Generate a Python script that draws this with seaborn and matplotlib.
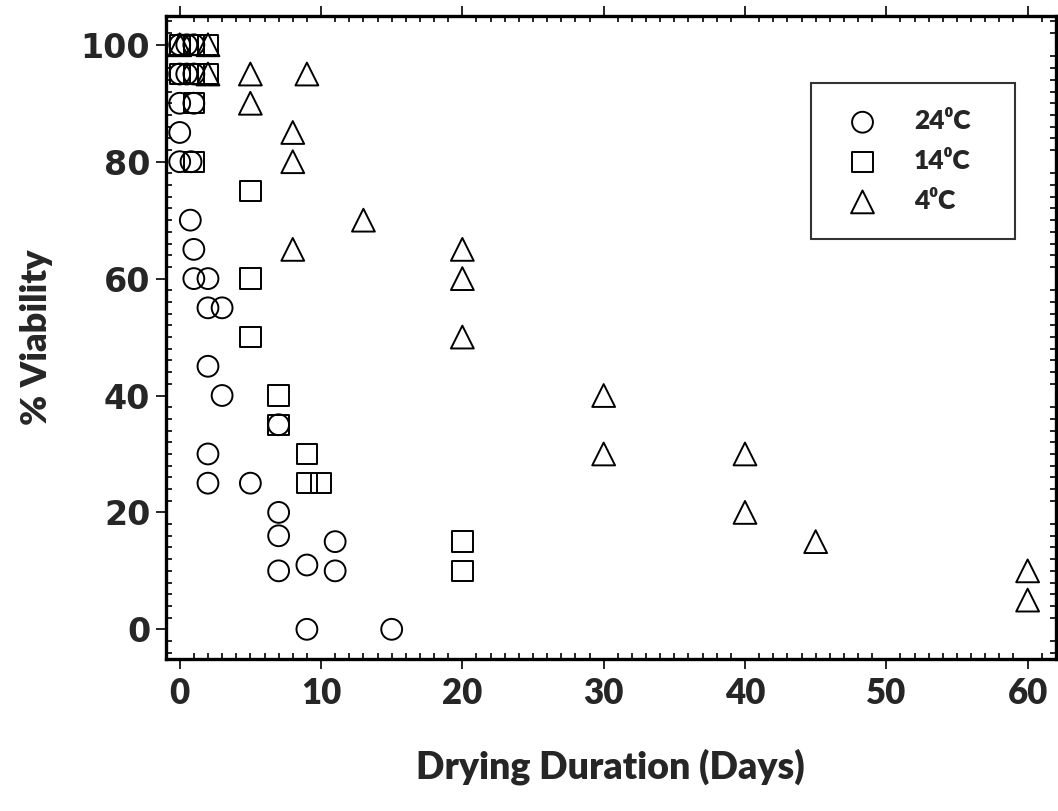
import matplotlib
matplotlib.use("Agg")
import matplotlib.pyplot as plt
from matplotlib.ticker import MultipleLocator
import seaborn as sns
import pandas as pd

# Seed viability after drying, by storage temperature
days_24 = [0, 0.5, 1, 0, 0.5, 1, 0, 1, 0, 0, 0.8, 0.75, 1, 1, 2, 2, 3, 2, 3, 7,
           2, 2, 5, 7, 7, 7, 9, 11, 11, 9, 15]
viab_24 = [100, 100, 100, 95, 95, 95, 90, 90, 85, 80, 80, 70, 65, 60, 60, 55, 55,
           45, 40, 35, 30, 25, 25, 20, 16, 10, 11, 15, 10, 0, 0]

days_14 = [0, 1, 2, 0, 1, 2, 1, 1, 5, 5, 5, 7, 7, 9, 9, 10, 20, 20]
viab_14 = [100, 100, 100, 95, 95, 95, 90, 80, 75, 60, 50, 40, 35, 30, 25, 25, 15, 10]

days_4 = [0, 2, 2, 5, 5, 9, 8, 8, 13, 8, 20, 20, 20, 30, 30, 40, 40, 45, 60, 60]
viab_4 = [100, 100, 95, 95, 90, 95, 85, 80, 70, 65, 65, 60, 50, 40, 30, 30, 20, 15, 10, 5]

series_labels = ["24\u2070C", "14\u2070C", "4\u2070C"]
x_ticks = [0, 10, 20, 30, 40, 50, 60]
y_ticks = [0, 20, 40, 60, 80, 100]

sns.set_theme(style="white")
text_family = ["Lato", "DejaVu Sans"]
plt.rcParams["font.family"] = text_family
plt.rcParams["font.weight"] = "bold"

fig = plt.figure(figsize=(10.58, 8.11), dpi=100)
ax = fig.add_axes([0.1565, 0.188, 0.8415, 0.7928])

groups = [
    (days_24, viab_24, "o", 225),
    (days_14, viab_14, "s", 215),
    (days_4, viab_4, "^", 270),
]
for (dx, vy, mk, size), lab in zip(groups, series_labels):
    df = pd.DataFrame({"days": dx, "viability": vy})
    sns.scatterplot(data=df, x="days", y="viability", marker=mk, s=size,
                    facecolor="none", edgecolor="black", linewidth=1.4,
                    label=lab, ax=ax, zorder=3)

ax.set_xlim(-1, 62)
ax.set_ylim(-5, 105)
ax.set_xticks(x_ticks)
ax.set_yticks(y_ticks)
ax.xaxis.set_minor_locator(MultipleLocator(1))
ax.yaxis.set_minor_locator(MultipleLocator(2))

for sp in ax.spines.values():
    sp.set_visible(True)
    sp.set_color("black")
    sp.set_linewidth(2.4)

ax.tick_params(which="major", direction="out", length=7, width=1.2,
               color="black", top=True, right=True, bottom=True, left=True)
ax.tick_params(which="minor", direction="in", length=4.5, width=1.2,
               color="black", top=True, right=True, bottom=True, left=True)
ax.tick_params(axis="x", which="major", pad=6, labelsize=25)
ax.tick_params(axis="y", which="major", pad=4, labelsize=24)

for t in ax.get_xticklabels():
    t.set_fontweight("heavy")
    t.set_fontfamily(text_family)
for t in ax.get_yticklabels():
    t.set_fontweight("bold")
    t.set_fontfamily(["DejaVu Sans"])

ax.set_xlabel("Drying Duration (Days)", fontsize=27, fontweight="heavy", labelpad=28)
ax.set_ylabel("% Viability", fontsize=26, fontweight="heavy", labelpad=20)

leg = ax.legend(loc="upper left", bbox_to_anchor=(0.725, 0.6555, 0.229, 0.24),
                mode="expand", frameon=True, fancybox=False, edgecolor="black",
                prop={"size": 19, "weight": "heavy", "family": text_family},
                borderpad=1.0, labelspacing=0.6, handletextpad=1.0,
                borderaxespad=0, handlelength=1.9)
leg.get_frame().set_linewidth(1.5)

fig.savefig("out.png", dpi=100)
